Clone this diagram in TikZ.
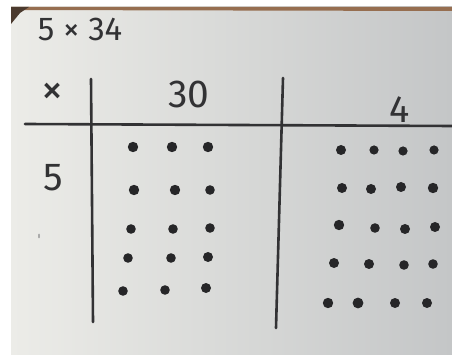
\documentclass[tikz,border=0pt]{standalone}
\usepackage{fontspec}
\setmainfont{Fira Sans}
\usepackage{xcolor}
\definecolor{paperlight}{RGB}{236,236,232}
\definecolor{papershade}{RGB}{196,198,199}
\definecolor{woodtone}{RGB}{150,110,80}
\definecolor{woodedge}{RGB}{75,58,46}
\definecolor{pencil}{RGB}{50,50,52}
\definecolor{dotink}{RGB}{38,38,40}
\definecolor{faintmark}{RGB}{170,170,170}

\begin{document}
\begin{tikzpicture}[x=1pt, y=-1pt]

% Frame and photographed paper
\useasboundingbox (0,0) rectangle (452,355);
\fill[white] (0,0) rectangle (452,355);
\shade[left color=paperlight, right color=papershade] (11,7) rectangle (452,355);

% Table edge at the top
\fill[woodtone] (11,7) -- (452,7) -- (452,11) -- (11,10) -- cycle;
\fill[woodedge] (11,7) -- (29,7) -- (20,13) -- (11,24) -- cycle;

% Title
\node[text=pencil, font=\fontsize{33}{33}\selectfont] (title) at (80,29) {5 × 34};

% Grid lines
\draw[pencil, line width=2.6pt, line cap=round] (25,124) -- (452,126);
\draw[pencil, line width=2.6pt, line cap=round] (91,79) -- (93,322);
\draw[pencil, line width=2.6pt, line cap=round] (283,78) -- (276,328);

% Headers
\node[text=pencil, font=\fontsize{44}{44}\selectfont] (times) at (52,94) {×};
\node[text=pencil, font=\fontsize{39}{39}\selectfont] (tens) at (189,94) {30};
\node[text=pencil, font=\fontsize{38}{38}\selectfont] (ones) at (400,110) {4};
\node[text=pencil, font=\fontsize{39}{39}\selectfont] (five) at (53,178) {5};
\fill[faintmark] (39,236) ellipse (1 and 2.5);

% Dots for 5 x 30
\fill[dotink] (133,147) circle (5.2) (172,147) circle (5.2) (208,147) circle (5.2);
\fill[dotink] (134,190) circle (5.2) (175,190) circle (5.2) (210,190) circle (4.8);
\fill[dotink] (131,229) circle (4.8) (173,229) circle (4.8) (210,228) circle (4.8);
\fill[dotink] (128,258) circle (4.8) (171,258) circle (4.8) (208,257) circle (5.0);
\fill[dotink] (123,291) circle (4.8) (165,290) circle (4.8) (206,288) circle (5.0);

% Dots for 5 x 4
\fill[dotink] (341,150) circle (5.0) (374,150) circle (4.6) (403,151) circle (4.6) (434,150) circle (4.6);
\fill[dotink] (342,188) circle (5.0) (371,189) circle (5.0) (401,187) circle (5.0) (433,188) circle (5.2);
\fill[dotink] (339,225) circle (5.2) (375,228) circle (4.8) (405,229) circle (5.0) (435,227) circle (5.0);
\fill[dotink] (334,263) circle (5.0) (369,264) circle (5.0) (404,265) circle (4.8) (433,264) circle (4.8);
\fill[dotink] (328,303) circle (5.2) (358,303) circle (5.4) (395,303) circle (5.0) (427,303) circle (5.0);

\end{tikzpicture}
\end{document}
